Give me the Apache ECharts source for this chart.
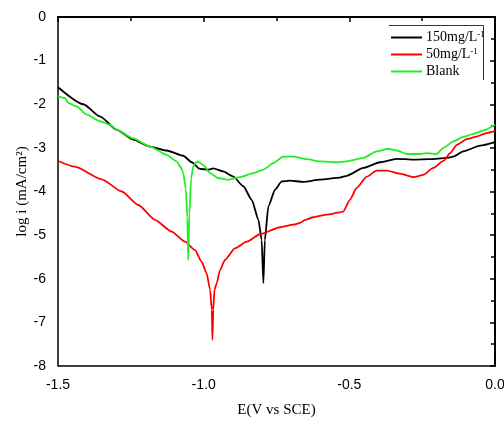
<!DOCTYPE html>
<html>
<head>
<meta charset="utf-8">
<script src="https://cdn.jsdelivr.net/npm/echarts@6/dist/echarts.min.js"></script>
<style>
  html, body { margin: 0; padding: 0; background: #fff; }
  #main { width: 504px; height: 421px; }
</style>
</head>
<body>
<div id="main"></div>
<script>
// axis setup
var xRange = [-1.5, 0];
var xStep = 0.5;
var yRange = [-8, 0];
var yStep = 1;

var seriesNames = ['150mg/L-1', '50mg/L-1', 'Blank'];
var seriesColors = ['#000000', '#ff0000', '#22ee22'];

// 150 mg/L : E (V vs SCE) and log i
var e150 = [-1.500, -1.413, -1.356, -1.299, -1.242, -1.184, -1.127, -1.070, -1.041, -1.013,
            -0.985, -0.967, -0.933, -0.898, -0.864, -0.835, -0.812, -0.801, -0.795, -0.790,
            -0.778, -0.755, -0.732, -0.704, -0.658, -0.601, -0.532, -0.509, -0.452, -0.395,
            -0.337, -0.280, -0.223, -0.166, -0.143, -0.109, -0.051, 0.000];
var i150 = [-1.61, -2.00, -2.28, -2.58, -2.81, -2.97, -3.06, -3.18, -3.33, -3.48,
            -3.50, -3.47, -3.54, -3.66, -3.88, -4.19, -4.65, -5.11, -6.10, -5.11,
            -4.34, -3.96, -3.77, -3.75, -3.78, -3.73, -3.68, -3.64, -3.46, -3.33,
            -3.25, -3.27, -3.26, -3.23, -3.20, -3.08, -2.95, -2.87];

// 50 mg/L
var e50 = [-1.500, -1.442, -1.350, -1.281, -1.224, -1.167, -1.110, -1.064, -1.030, -1.007,
           -0.990, -0.978, -0.972, -0.970, -0.967, -0.963, -0.955, -0.944, -0.927, -0.892,
           -0.852, -0.807, -0.738, -0.692, -0.669, -0.652, -0.624, -0.578, -0.532, -0.521,
           -0.498, -0.475, -0.440, -0.406, -0.372, -0.326, -0.280, -0.246, -0.212, -0.177,
           -0.154, -0.131, -0.097, -0.063, -0.029, 0.000];
var i50 = [-3.30, -3.43, -3.72, -4.00, -4.31, -4.65, -4.92, -5.15, -5.34, -5.61,
           -5.87, -6.25, -6.71, -7.40, -6.71, -6.25, -6.10, -5.80, -5.57, -5.30,
           -5.15, -4.98, -4.82, -4.76, -4.72, -4.65, -4.59, -4.53, -4.48, -4.46,
           -4.19, -3.92, -3.66, -3.52, -3.52, -3.59, -3.67, -3.62, -3.46, -3.30,
           -3.12, -2.93, -2.80, -2.74, -2.66, -2.61];

// Blank
var eBlank = [-1.500, -1.476, -1.465, -1.436, -1.401, -1.356, -1.322, -1.299, -1.242, -1.184,
              -1.127, -1.093, -1.078, -1.070, -1.061, -1.056, -1.053, -1.049, -1.043, -1.035,
              -1.021, -1.001, -0.978, -0.951, -0.916, -0.875, -0.830, -0.795, -0.761, -0.727,
              -0.692, -0.646, -0.601, -0.543, -0.509, -0.452, -0.406, -0.366, -0.337, -0.303,
              -0.257, -0.234, -0.200, -0.177, -0.143, -0.109, -0.074, -0.040, 0.000];
var iBlank = [-1.82, -1.86, -1.97, -2.05, -2.24, -2.39, -2.47, -2.58, -2.78, -2.97,
              -3.16, -3.31, -3.45, -3.58, -3.95, -4.60, -5.57, -4.50, -3.70, -3.40,
              -3.31, -3.39, -3.58, -3.69, -3.73, -3.67, -3.58, -3.50, -3.35, -3.20,
              -3.20, -3.26, -3.31, -3.33, -3.31, -3.23, -3.08, -3.02, -3.06, -3.14,
              -3.14, -3.12, -3.14, -3.00, -2.85, -2.75, -2.68, -2.60, -2.47];

function pairs(xs, ys) {
    var list = [];
    for (var i = 0; i < xs.length; i++) {
        list.push([xs[i], ys[i]]);
    }
    return list;
}

var curves = [pairs(e150, i150), pairs(e50, i50), pairs(eBlank, iBlank)];

var myChart = echarts.init(document.getElementById('main'));
var option = {
    backgroundColor: '#fff',
    animation: false,
    grid: {
        left: 58,
        right: 9,
        top: 17,
        bottom: 55,
        outerBoundsMode: 'none',
        show: true,
        borderColor: '#000',
        borderWidth: 1.5
    },
    legend: {
        orient: 'vertical',
        left: 386,
        top: 25.5,
        icon: 'rect',
        itemWidth: 31,
        itemHeight: 2,
        itemGap: 3,
        data: seriesNames,
        formatter: function (name) {
            return name.replace('L-1', 'L{sup|-1}');
        },
        textStyle: {
            fontFamily: 'Liberation Serif',
            fontSize: 14,
            lineHeight: 14,
            color: '#000',
            padding: [0, 0, 0, -1],
            rich: {
                sup: {
                    fontFamily: 'Liberation Serif',
                    fontSize: 9,
                    color: '#000',
                    verticalAlign: 'top',
                    padding: [0, 0, 6, 0]
                }
            }
        }
    },
    graphic: [{
        type: 'polyline',
        shape: { points: [[389, 25.5], [483.5, 25.5], [483.5, 80]] },
        style: { stroke: '#333', lineWidth: 1, fill: null }
    }],
    xAxis: {
        type: 'value',
        min: xRange[0],
        max: xRange[1],
        interval: xStep,
        name: 'E(V vs SCE)',
        nameLocation: 'middle',
        nameGap: 37,
        nameMoveOverlap: false,
        nameTextStyle: { fontFamily: 'Liberation Serif', fontSize: 15, color: '#000' },
        axisLine: { lineStyle: { color: '#000', width: 2 } },
        axisTick: { inside: false, length: 5, lineStyle: { color: '#000', width: 1.5 } },
        minorTick: { show: true, splitNumber: 2, length: 4, lineStyle: { color: '#000', width: 1.5 } },
        axisLabel: {
            margin: 12,
            fontFamily: 'Liberation Sans',
            fontSize: 14,
            color: '#000',
            formatter: function (v) { return v.toFixed(1); }
        },
        splitLine: { show: false }
    },
    yAxis: {
        type: 'value',
        min: yRange[0],
        max: yRange[1],
        interval: yStep,
        name: 'log i (mA/cm²)',
        nameLocation: 'middle',
        nameGap: 28,
        nameMoveOverlap: false,
        nameTextStyle: { fontFamily: 'Liberation Serif', fontSize: 15, color: '#000' },
        axisLine: { lineStyle: { color: '#000', width: 2 } },
        axisTick: { inside: false, length: 5, lineStyle: { color: '#000', width: 1.5 } },
        minorTick: { show: true, splitNumber: 2, length: 4, lineStyle: { color: '#000', width: 1.5 } },
        axisLabel: {
            margin: 12,
            fontFamily: 'Liberation Sans',
            fontSize: 14,
            color: '#000'
        },
        splitLine: { show: false }
    },
    series: seriesNames.map(function (name, k) {
        return {
            name: name,
            type: 'line',
            data: curves[k],
            symbol: 'none',
            smooth: 0.2,
            smoothMonotone: 'x',
            color: seriesColors[k],
            lineStyle: { color: seriesColors[k], width: 1.8 }
        };
    })
};
myChart.setOption(option);
</script>
</body>
</html>
